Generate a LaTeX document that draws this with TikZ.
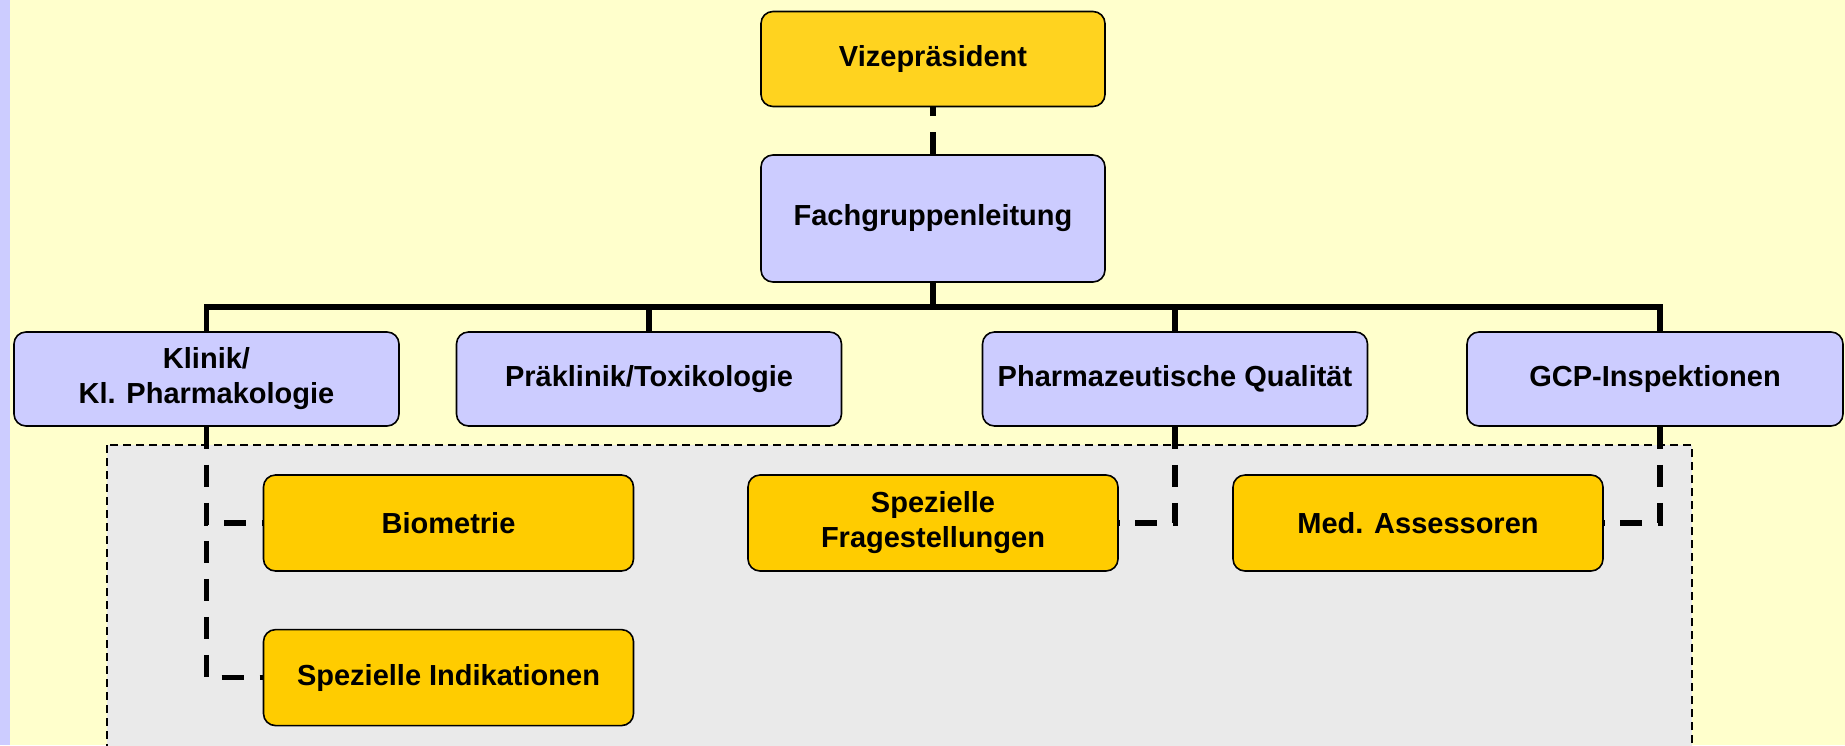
\documentclass[tikz,border=0pt]{standalone}
\usepackage{fontspec}
\setmainfont{Liberation Sans}
\usepackage{tikz}
\usetikzlibrary{positioning}
\definecolor{bgyellow}{HTML}{FFFFCC}
\definecolor{stripblue}{HTML}{CCCCFF}
\definecolor{boxblue}{HTML}{CCCCFF}
\definecolor{boxgold}{HTML}{FFCC00}
\definecolor{topgold}{HTML}{FFD31F}
\definecolor{areagrey}{HTML}{EAEAEA}
\tikzset{
  orgbox/.style={draw=black, line width=0.8pt, rounded corners=6pt, align=center,
    font=\bfseries\fontsize{14.5}{17.5}\selectfont, inner sep=2pt},
  headbox/.style={orgbox, fill=boxblue, minimum width=172pt},
  unitbox/.style={orgbox, fill=boxblue, minimum width=192.5pt, minimum height=47pt},
  taskbox/.style={orgbox, fill=boxgold, minimum width=185pt, minimum height=48pt},
  solidlink/.style={line width=2.6pt},
  dashlink/.style={line width=2.8pt, dash pattern=on 11pt off 8pt},
  areaframe/.style={draw=black, fill=areagrey, line width=0.7pt, dash pattern=on 4pt off 2.5pt},
}

\begin{document}
\begin{tikzpicture}[x=0.5pt, y=-0.5pt]
  % page background
  \fill[bgyellow] (0,0) rectangle (1845,745);
  \fill[stripblue] (0,0) rectangle (10,745);
  \useasboundingbox (0,0) rectangle (1845,745);
  % grey area for the working groups
  \draw[areaframe] (107,445) rectangle (1692,770);

  \node[headbox, fill=topgold, minimum height=47.5pt] (vize) at (933,59) {Vizepräsident};
  \node[headbox, minimum height=63.5pt] (fach) at (933,218.5) {Fachgruppenleitung};

  \node[unitbox] (klinik) at (206.5,379) {Klinik/\\Kl. Pharmakologie};
  \node[unitbox] (praek) at (649,379) {Präklinik/Toxikologie};
  \node[unitbox] (pharm) at (1175,379) {Pharmazeutische Qualität};
  \node[unitbox, minimum width=188pt] (gcp) at (1655,379) {GCP-Inspektionen};

  \node[taskbox] (bio) at (448.5,523) {Biometrie};
  \node[taskbox, below=28.5pt of bio] (spind) {Spezielle Indikationen};
  \node[taskbox] (frage) at (933,523) {Spezielle\\Fragestellungen};
  \node[taskbox] (medass) at (1418,523) {Med. Assessoren};

  % tree lines
  \coordinate (bar) at (933,307);
  \coordinate (gcpup) at ([xshift=2.5pt]gcp.north);
  \coordinate (gcpdown) at ([xshift=2.5pt]gcp.south);
  \draw[solidlink] (fach.south) -- (bar);
  \draw[solidlink] (klinik.north) |- (bar) -| (gcpup);
  \draw[solidlink] (praek.north) -- (praek.north |- bar);
  \draw[solidlink] (pharm.north) -- (pharm.north |- bar);

  \draw[dashlink] (fach.north) -- (vize.south);
  \draw[dashlink] (klinik.south) |- (bio.west);
  \draw[dashlink] (klinik.south) |- (spind.west);
  \draw[dashlink] (pharm.south) |- (frage.east);
  \draw[dashlink] (gcpdown) |- (medass.east);
\end{tikzpicture}
\end{document}
